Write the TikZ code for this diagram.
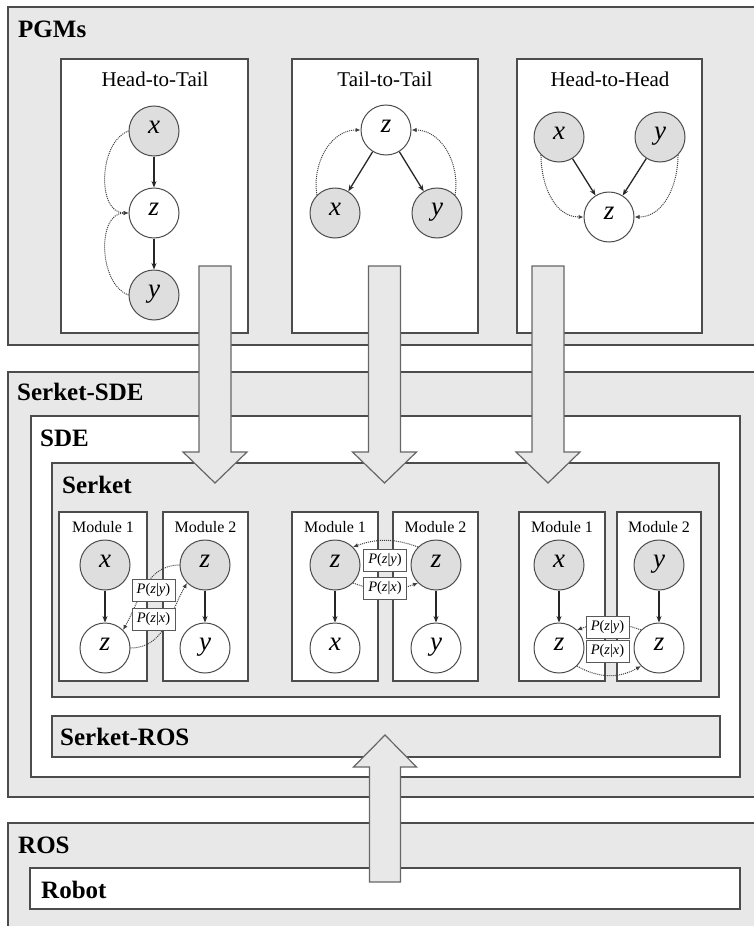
\documentclass[tikz,border=0pt]{standalone}
\usepackage{fontspec}
\setmainfont{Liberation Serif}
\usetikzlibrary{arrows.meta}
\newcommand{\bigdownarrow}[1]{%
  \draw[bigarrow] ({#1-16},266) -- ({#1+16},266) -- ({#1+16},452) -- ({#1+32},452)
    -- (#1,483) -- ({#1-32},452) -- ({#1-16},452) -- cycle;}
\begin{document}
\begin{tikzpicture}[x=1pt,y=-1pt,
  box/.style={draw=black!70, line width=1.2pt},
  grayfill/.style={box, fill=black!9},
  whitefill/.style={box, fill=white},
  obs/.style={circle, draw=black!70, line width=1pt, fill=black!13, minimum size=50pt,
    inner sep=0pt, text height=1.25ex, text depth=0.3ex,
    font=\fontsize{27}{27}\selectfont\itshape},
  lat/.style={obs, fill=white},
  edge/.style={-{Stealth[length=6.5pt,width=5pt]}, line width=1.3pt, draw=black!85},
  dots/.style={densely dotted, line width=1pt, draw=black!75, -{Latex[length=5pt,width=4.5pt]}},
  plab/.style={draw=black!65, line width=0.8pt, fill=white, minimum width=43pt,
    minimum height=22pt, inner sep=1pt, font=\fontsize{14.5}{14.5}\selectfont},
  boldlab/.style={anchor=base west, inner sep=0pt, font=\fontsize{25}{25}\selectfont\bfseries},
  title/.style={anchor=base, inner sep=0pt, font=\fontsize{21}{21}\selectfont},
  modlab/.style={anchor=base, inner sep=0pt, font=\fontsize{16}{16}\selectfont},
  bigarrow/.style={fill=black!9, draw=black!60, line width=1.2pt, line join=miter}
]
\useasboundingbox (0,0) rectangle (753,926);

% ---------- outer boxes ----------
\draw[grayfill] (8,7) rectangle (775,345);
\node[boldlab] (pgmslab) at (18,37) {PGMs};
\draw[whitefill] (61,59) rectangle (248,333);
\draw[whitefill] (292,59) rectangle (478,333);
\draw[whitefill] (517,59) rectangle (702,333);
\node[title] (tht) at (155,86) {Head-to-Tail};
\node[title] (ttt) at (385,86) {Tail-to-Tail};
\node[title] (thh) at (610,86) {Head-to-Head};

\draw[grayfill] (8,372) rectangle (775,797);
\node[boldlab] (sdelab0) at (17,400) {Serket-SDE};
\draw[whitefill] (31,416) rectangle (740,777);
\node[boldlab] (sdelab) at (40,446) {SDE};
\draw[grayfill] (52,463) rectangle (719,697);
\node[boldlab] (serketlab) at (62,493) {Serket};
\draw[grayfill] (52,716) rectangle (720,757);
\node[boldlab] (roslab0) at (60,745) {Serket-ROS};

\draw[grayfill] (8,823) rectangle (775,945);
\node[boldlab] (roslab) at (18,853) {ROS};
\draw[whitefill] (30,868) rectangle (740,909);
\node[boldlab] (robotlab) at (41,898) {Robot};

% ---------- PGM graphs ----------
\node[obs] (htx) at (154,131) {x};
\node[lat] (htz) at (154,213) {z};
\node[obs] (hty) at (154,295) {y};
\draw[edge] (htx) -- (htz);
\draw[edge] (htz) -- (hty);
\draw[dots] (htx.west) to[out=200,in=180] (htz.west);
\draw[dots] (hty.west) to[out=160,in=180] (htz.west);

\node[lat] (ttz) at (386,130) {z};
\node[obs] (ttx) at (335,213) {x};
\node[obs] (tty) at (437,213) {y};
\draw[edge] (ttz) -- (ttx);
\draw[edge] (ttz) -- (tty);
\draw[dots] (ttx.north west) to[out=100,in=180] (ttz.west);
\draw[dots] (tty.north east) to[out=80,in=0] (ttz.east);

\node[obs] (hhx) at (559,137) {x};
\node[obs] (hhy) at (660,137) {y};
\node[lat] (hhz) at (609,217) {z};
\draw[edge] (hhx) -- (hhz);
\draw[edge] (hhy) -- (hhz);
\draw[dots] (hhx.south west) to[out=-90,in=180] (hhz.west);
\draw[dots] (hhy.south east) to[out=-90,in=0] (hhz.east);

% ---------- modules ----------
\draw[whitefill] (59,512) rectangle (147,681);
\draw[whitefill] (163,512) rectangle (248,681);
\draw[whitefill] (292,512) rectangle (378,681);
\draw[whitefill] (393,512) rectangle (478,681);
\draw[whitefill] (519,512) rectangle (605,681);
\draw[whitefill] (617,512) rectangle (701,681);
\node[modlab] (m11) at (103,532) {Module 1};
\node[modlab] (m12) at (205.5,532) {Module 2};
\node[modlab] (m21) at (335,532) {Module 1};
\node[modlab] (m22) at (435.5,532) {Module 2};
\node[modlab] (m31) at (562,532) {Module 1};
\node[modlab] (m32) at (659,532) {Module 2};

% group 1
\node[obs] (ga) at (105,565) {x};
\node[lat] (gc) at (105,648) {z};
\node[obs] (gb) at (205,565) {z};
\node[lat] (gd) at (205,648) {y};
\draw[edge] (ga) -- (gc);
\draw[edge] (gb) -- (gd);
\draw[dots] (gb.west) to[out=180,in=60] (gc.north east);
\draw[dots] (gc.east) to[out=0,in=240] (gb.south west);
\node[plab] (p1y) at (153.5,590) {\textit{P}(\textit{z}|\textit{y})};
\node[plab] (p1x) at (153.5,619) {\textit{P}(\textit{z}|\textit{x})};

% group 2
\node[obs] (ha) at (335,565) {z};
\node[lat] (hc) at (335,648) {x};
\node[obs] (hb) at (436,565) {z};
\node[lat] (hd) at (436,648) {y};
\draw[edge] (ha) -- (hc);
\draw[edge] (hb) -- (hd);
\draw[dots] (hb.north west) to[out=160,in=20] (ha.north east);
\draw[dots] (ha.south east) to[out=-20,in=200] (hb.south west);
\node[plab] (p2y) at (385,560) {\textit{P}(\textit{z}|\textit{y})};
\node[plab] (p2x) at (385,588) {\textit{P}(\textit{z}|\textit{x})};

% group 3
\node[obs] (ka) at (559,565) {x};
\node[lat] (kc) at (559,648) {z};
\node[obs] (kb) at (659,565) {y};
\node[lat] (kd) at (659,648) {z};
\draw[edge] (ka) -- (kc);
\draw[edge] (kb) -- (kd);
\draw[dots] (kd.north west) to[out=160,in=20] (kc.north east);
\draw[dots] (kc.south east) to[out=-30,in=210] (kd.south west);
\node[plab] (p3y) at (607.5,627) {\textit{P}(\textit{z}|\textit{y})};
\node[plab] (p3x) at (607.5,651) {\textit{P}(\textit{z}|\textit{x})};

% ---------- big arrows ----------
\bigdownarrow{215}
\bigdownarrow{384.5}
\bigdownarrow{548}
\draw[bigarrow] (369.5,882) -- (400.5,882) -- (400.5,767) -- (416.5,767) -- (385,735)
  -- (353.5,767) -- (369.5,767) -- cycle;
\end{tikzpicture}
\end{document}
